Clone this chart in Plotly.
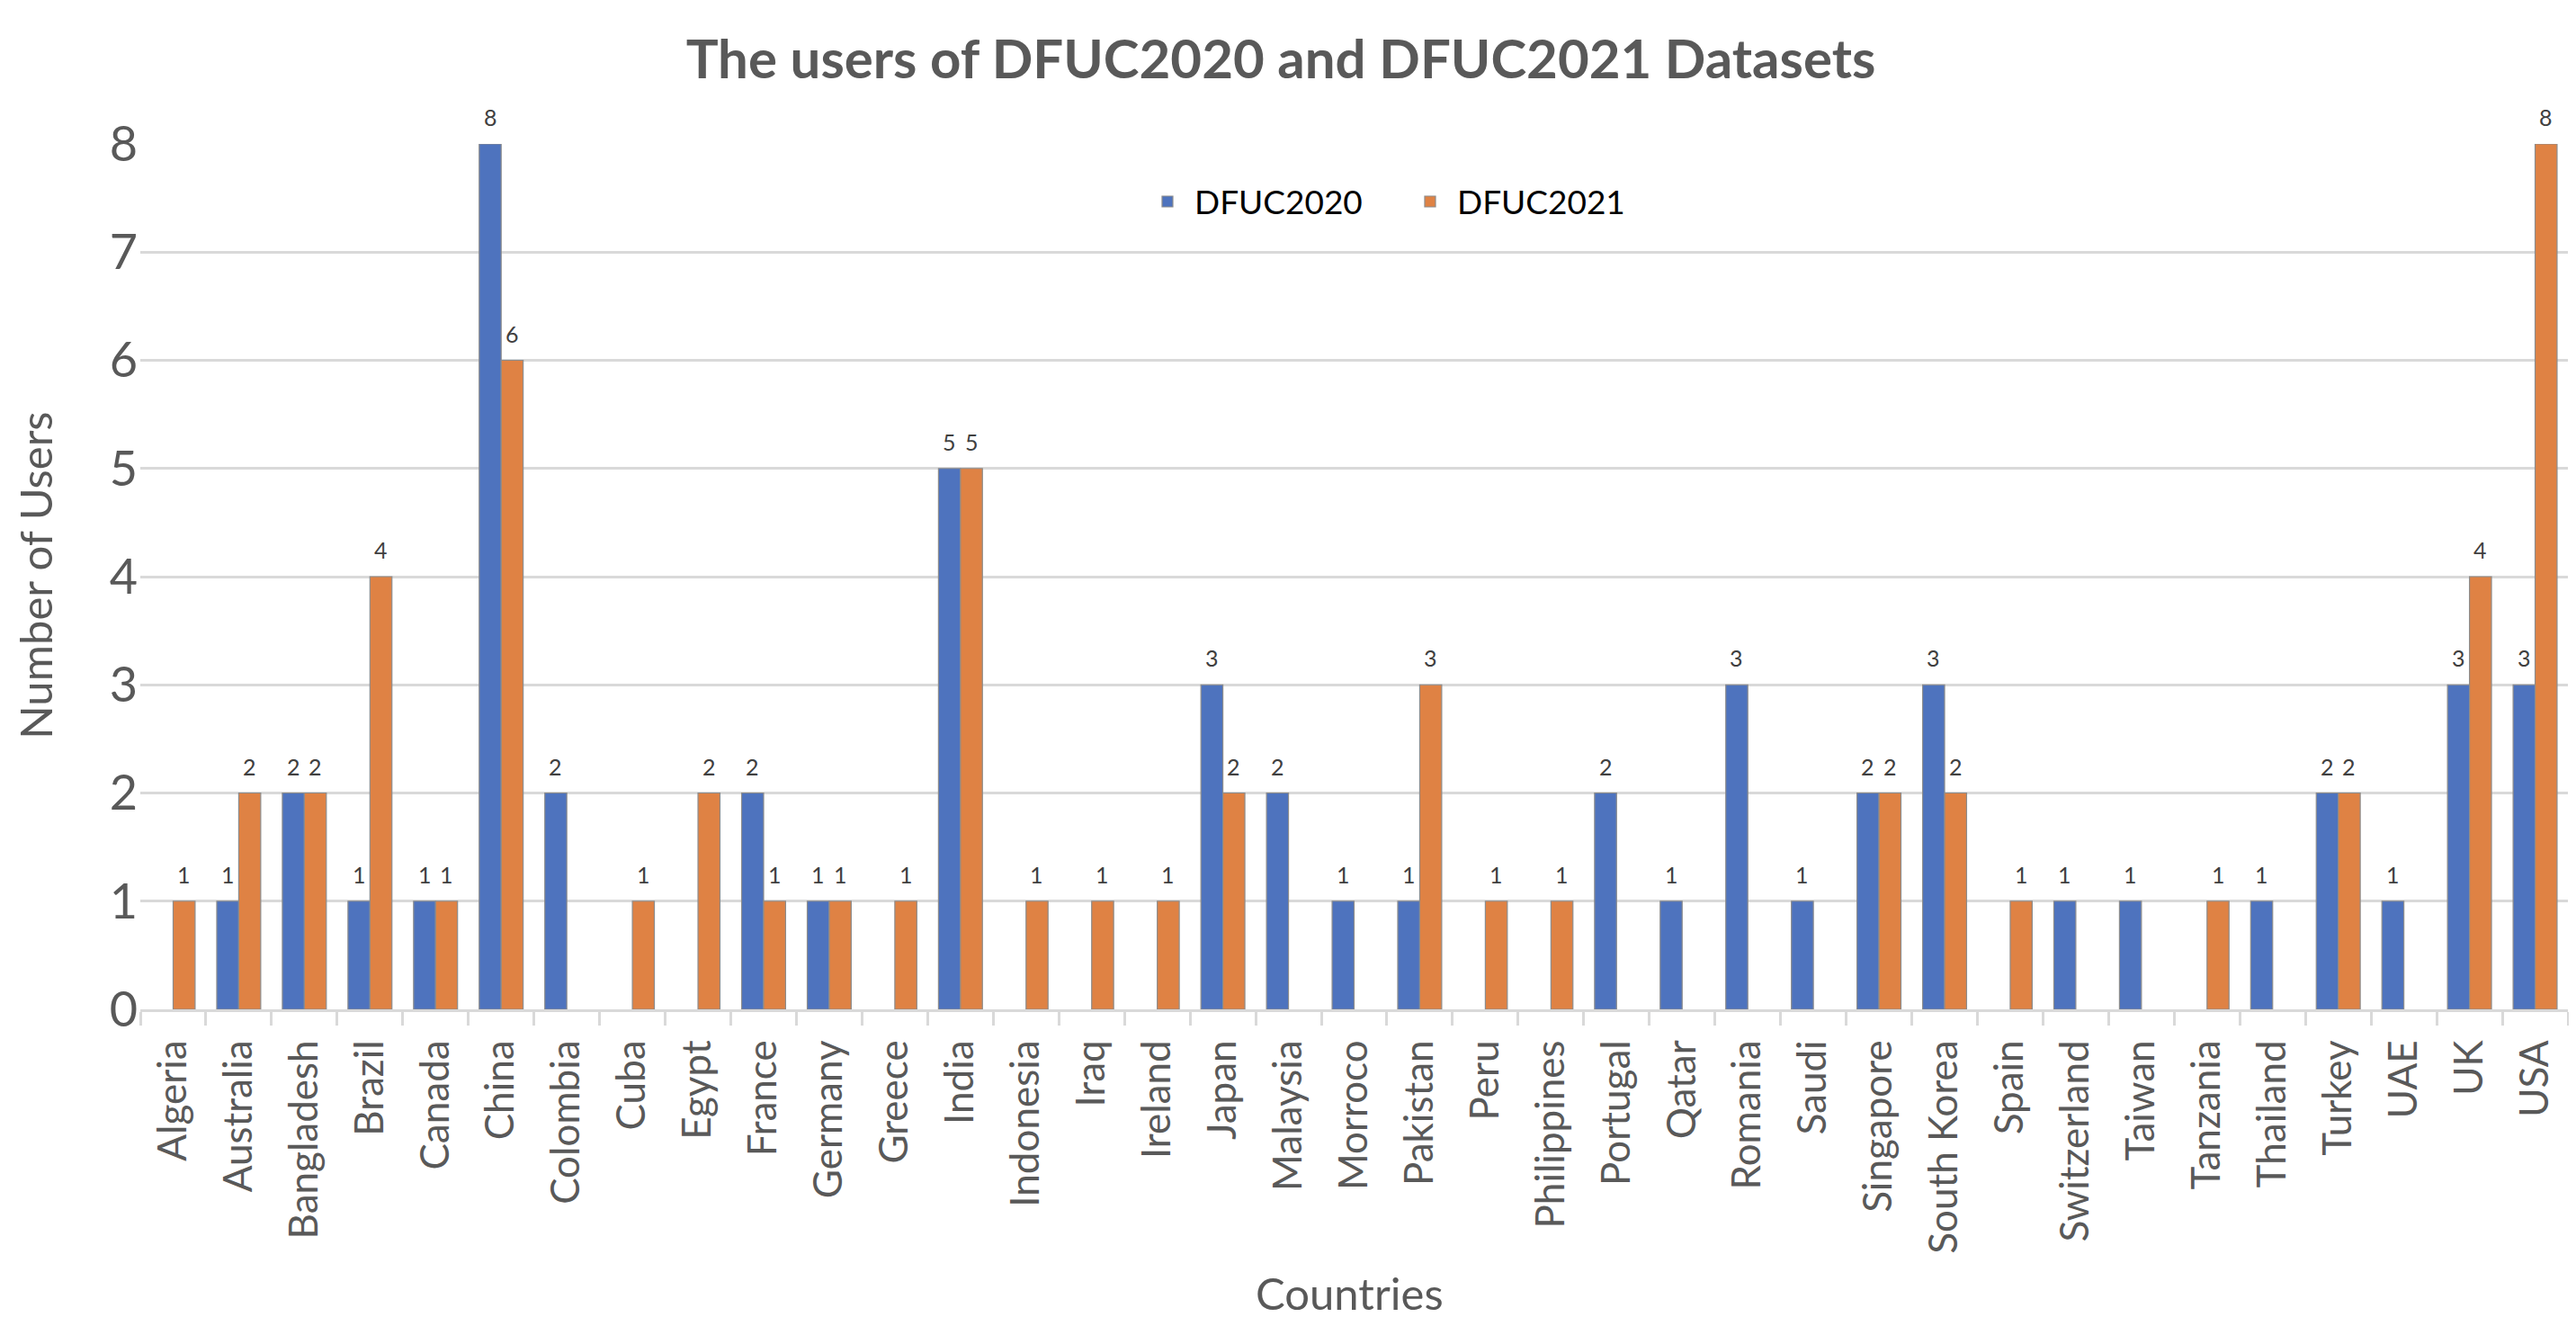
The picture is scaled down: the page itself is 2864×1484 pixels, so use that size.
import plotly.graph_objects as go

countries = ["Algeria", "Australia", "Bangladesh", "Brazil", "Canada", "China", "Colombia",
             "Cuba", "Egypt", "France", "Germany", "Greece", "India", "Indonesia", "Iraq",
             "Ireland", "Japan", "Malaysia", "Morroco", "Pakistan", "Peru", "Philippines",
             "Portugal", "Qatar", "Romania", "Saudi", "Singapore", "South Korea", "Spain",
             "Switzerland", "Taiwan", "Tanzania", "Thailand", "Turkey", "UAE", "UK", "USA"]
dfuc2020 = [0, 1, 2, 1, 1, 8, 2, 0, 0, 2, 1, 0, 5, 0, 0, 0, 3, 2, 1, 1, 0, 0, 2, 1, 3, 1,
            2, 3, 0, 1, 1, 0, 1, 2, 1, 3, 3]
dfuc2021 = [1, 2, 2, 4, 1, 6, 0, 1, 2, 1, 1, 1, 5, 1, 1, 1, 2, 0, 0, 3, 1, 1, 0, 0, 0, 0,
            2, 2, 1, 0, 0, 1, 0, 2, 0, 4, 8]
y_ticks = [0, 1, 2, 3, 4, 5, 6, 7, 8]

BLUE = "#4E73BE"
ORANGE = "#DF8244"
GRAY = "#595959"
GRID = "#D9D9D9"
FONT = "Lato"


def nonzero(vals):
    return [v if v else None for v in vals]


fig = go.Figure()
fig.add_trace(go.Bar(name="DFUC2020", x=countries, y=nonzero(dfuc2020),
                     marker=dict(color=BLUE, line=dict(color="#8C8C8C", width=1.2))))
fig.add_trace(go.Bar(name="DFUC2021", x=countries, y=nonzero(dfuc2021),
                     marker=dict(color=ORANGE, line=dict(color="#8C8C8C", width=1.2))))

annotations = []
for series, shift in ((dfuc2020, -12.2), (dfuc2021, 12.2)):
    for c, v in zip(countries, series):
        if v:
            annotations.append(dict(x=c, y=v, xref="x", yref="y", text=str(v),
                                    showarrow=False, xshift=shift, yshift=30,
                                    yanchor="middle", xanchor="center",
                                    font=dict(family=FONT, size=25, color="#404040")))

annotations.append(dict(x=0.498, y=-0.327, xref="paper", yref="paper", text="Countries",
                        showarrow=False, xanchor="center", yanchor="middle",
                        font=dict(family=FONT, size=49, color=GRAY)))
annotations.append(dict(x=-0.0435, y=0.501, xref="paper", yref="paper", text="Number of Users",
                        showarrow=False, xanchor="center", yanchor="middle", textangle=-90,
                        font=dict(family=FONT, size=49, color=GRAY)))

fig.update_layout(
    width=2864, height=1484,
    margin=dict(l=148, r=17, t=152, b=370),
    paper_bgcolor="white", plot_bgcolor="white",
    barmode="group", bargap=0.33, bargroupgap=0,
    title=dict(text="<b>The users of DFUC2020 and DFUC2021 Datasets</b>",
               x=1416 / 2864, xref="container", xanchor="center",
               y=1 - 58 / 1484, yref="container", yanchor="middle",
               font=dict(family=FONT, size=60, color=GRAY)),
    legend=dict(orientation="h", x=0.412, y=0.933, xanchor="left", yanchor="middle",
                font=dict(family=FONT, size=37, color="black"),
                bgcolor="rgba(0,0,0,0)", itemwidth=50, traceorder="normal",
                entrywidth=227, entrywidthmode="pixels"),
    annotations=annotations,
    font=dict(family=FONT, color=GRAY),
)
fig.update_xaxes(
    type="category", showgrid=False, showline=True, linecolor=GRID, linewidth=2.5,
    ticks="outside", tickson="boundaries", ticklen=15, tickcolor=GRID, tickwidth=2.5,
    tickangle=-90, tickfont=dict(family=FONT, size=44, color=GRAY),
    ticklabelstandoff=14,
)
fig.update_yaxes(
    range=[0, 8], tickvals=y_ticks, showgrid=True, gridcolor=GRID, gridwidth=2.5,
    zeroline=False, showline=False, ticks="",
    tickfont=dict(family=FONT, size=54, color=GRAY), ticklabelstandoff=2,
)

fig.write_html("out.html")
